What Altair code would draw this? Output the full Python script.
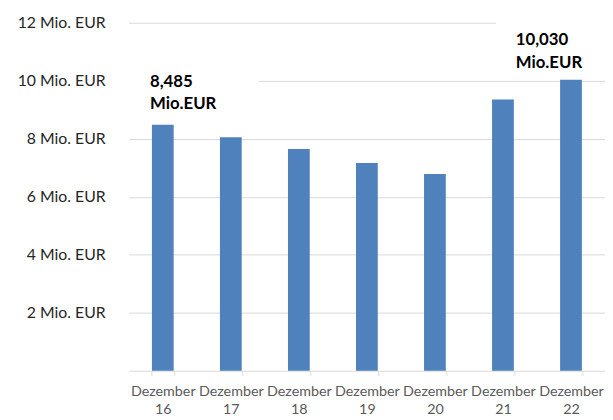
import altair as alt
import pandas as pd

categories = ["Dezember 16", "Dezember 17", "Dezember 18", "Dezember 19",
              "Dezember 20", "Dezember 21", "Dezember 22"]
values = [8.485, 8.05, 7.65, 7.16, 6.78, 9.35, 10.03]
y_ticks = [2, 4, 6, 8, 10, 12]
first_label = ["8,485", "Mio.EUR"]
last_label = ["10,030", "Mio.EUR"]

df = pd.DataFrame({"cat": categories, "value": values})
lab_first = pd.DataFrame({"cat": [categories[0]], "value": [values[0]],
                          "l1": [first_label[0]], "l2": [first_label[1]]})
lab_last = pd.DataFrame({"cat": [categories[-1]], "value": [values[-1]],
                         "l1": [last_label[0]], "l2": [last_label[1]]})

FONT = "Lato"

x_enc = alt.X(
    "cat:N", sort=categories, title=None,
    scale=alt.Scale(domain=categories, paddingInner=0.68, paddingOuter=0.34),
    axis=alt.Axis(labelExpr="split(datum.label, ' ')", labelAngle=0,
                  tickBand="extent", tickSize=5, tickColor="#d9d9d9",
                  domainColor="#d9d9d9", labelColor="#595959", labelFont=FONT,
                  labelFontSize=14.5, labelLineHeight=18, labelPadding=9,
                  labelOverlap=False, grid=False),
)
y_scale = alt.Scale(domain=[0, 12], nice=False, zero=True)
y_enc = alt.Y(
    "value:Q", scale=y_scale, title=None,
    axis=alt.Axis(values=y_ticks, labelExpr="datum.value + ' Mio. EUR'",
                  domain=False, ticks=False, gridColor="#d9d9d9",
                  labelPadding=24, labelFont=FONT, labelFontSize=16,
                  labelColor="#262626"),
)

bars = alt.Chart(df).mark_bar(color="#4f81bd").encode(x=x_enc, y=y_enc)

mask1 = alt.Chart(lab_first).transform_calculate(
    lo="datum.value + 0.4", hi="datum.value + 2.0"
).mark_bar(color="white", width=132, xOffset=31).encode(
    x=alt.X("cat:N"), y=alt.Y("lo:Q"), y2="hi:Q")
mask2 = alt.Chart(lab_last).transform_calculate(
    lo="datum.value + 0.2", hi="datum.value + 2.3"
).mark_bar(color="white", width=120, xOffset=-16).encode(
    x=alt.X("cat:N"), y=alt.Y("lo:Q"), y2="hi:Q")

text1 = alt.Chart(lab_first).transform_calculate(
    lbl="[datum.l1, datum.l2]"
).mark_text(align="left", baseline="alphabetic", font=FONT, fontWeight="bold",
            fontSize=17, lineHeight=22, color="black", dx=-13, dy=-38).encode(
    x=alt.X("cat:N"), y=alt.Y("value:Q"), text="lbl:N")
text2 = alt.Chart(lab_last).transform_calculate(
    lbl="[datum.l1, datum.l2]"
).mark_text(align="left", baseline="alphabetic", font=FONT, fontWeight="bold",
            fontSize=17, lineHeight=23, color="black", dx=-56, dy=-35).encode(
    x=alt.X("cat:N"), y=alt.Y("value:Q"), text="lbl:N")

chart = alt.layer(bars, mask1, mask2, text1, text2).properties(
    width=483, height=353,
    autosize=alt.AutoSizeParams(type="none"),
    padding={"left": 122.5, "top": 12, "right": 0, "bottom": 47},
).configure_view(stroke=None)

chart.save("out.html", embed_options={"renderer": "svg", "actions": False})
